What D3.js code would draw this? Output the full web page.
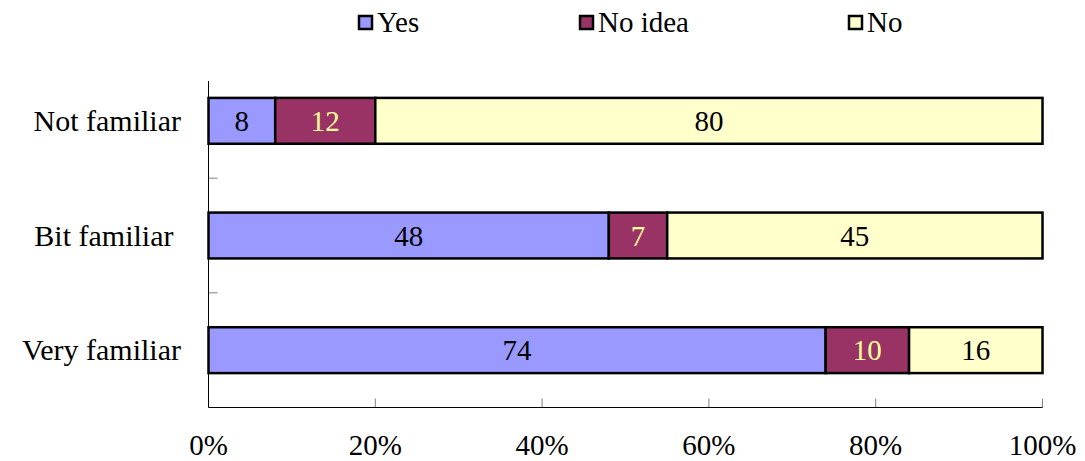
<!DOCTYPE html>
<html>
  <head>
    <script src="https://d3js.org/d3.v7.min.js"></script>
    <style>
      body { margin: 0; background: #fff; }
    </style>
  </head>
  <body>
    <script>
      var width = 1085;
      var height = 461;
      var margin = {top: 63.5, left: 208.5, right: 42.5, bottom: 53.5};
      var font = "'Liberation Serif'";

      var categories = ["Not familiar", "Bit familiar ", "Very familiar"];
      var seriesNames = ["Yes", "No idea", "No"];
      var yesValues = [8, 48, 74];
      var noIdeaValues = [12, 7, 10];
      var noValues = [80, 45, 16];
      var tickValues = [0, 20, 40, 60, 80, 100];
      var colors = ["#9999ff", "#993366", "#ffffcc"];
      var labelColors = ["#000", "#ffff99", "#000"];

      var svg = d3.select("body")
        .append("svg")
        .attr("width", width)
        .attr("height", height);

      var rows = categories.map(function(c, i) {
        return {cat: c, "Yes": yesValues[i], "No idea": noIdeaValues[i], "No": noValues[i]};
      });
      var stacked = d3.stack().keys(seriesNames)(rows);

      var xScale = d3.scaleLinear()
        .domain([0, 100])
        .range([margin.left, width - margin.right]);

      var yScale = d3.scaleBand()
        .domain(categories)
        .range([margin.top, height - margin.bottom])
        .paddingInner(0.6)
        .paddingOuter(0.3);

      // category separators on the left axis
      var step = yScale.step();
      var seps = categories.slice(1).map(function(c) { return yScale(c) - (step - yScale.bandwidth()) / 2; });
      svg.selectAll(".sep")
        .data(seps)
        .enter()
        .append("line")
        .attr("x1", margin.left)
        .attr("x2", margin.left + 9)
        .attr("y1", function(d) { return d; })
        .attr("y2", function(d) { return d; })
        .attr("stroke", "#808080")
        .attr("stroke-width", 1);

      // x ticks pointing up inside
      svg.selectAll(".xtick")
        .data(tickValues.slice(1))
        .enter()
        .append("line")
        .attr("x1", function(d) { return xScale(d); })
        .attr("x2", function(d) { return xScale(d); })
        .attr("y1", height - margin.bottom)
        .attr("y2", height - margin.bottom - 9)
        .attr("stroke", "#808080")
        .attr("stroke-width", 1);

      svg.selectAll(".xlabel")
        .data(tickValues)
        .enter()
        .append("text")
        .attr("x", function(d) { return xScale(d); })
        .attr("y", 455)
        .attr("text-anchor", "middle")
        .style("font-family", font)
        .style("font-size", "29px")
        .text(function(d) { return d + "%"; });

      var groups = svg.selectAll(".series")
        .data(stacked)
        .enter()
        .append("g");

      groups.selectAll("rect")
        .data(function(s, i) { return s.map(function(d) { return {d: d, i: i}; }); })
        .enter()
        .append("rect")
        .attr("x", function(o) { return xScale(o.d[0]); })
        .attr("y", function(o) { return yScale(o.d.data.cat); })
        .attr("width", function(o) { return xScale(o.d[1]) - xScale(o.d[0]); })
        .attr("height", yScale.bandwidth())
        .attr("fill", function(o) { return colors[o.i]; })
        .attr("stroke", "#000")
        .attr("stroke-width", 2.5);

      groups.selectAll("text")
        .data(function(s, i) { return s.map(function(d) { return {d: d, i: i}; }); })
        .enter()
        .append("text")
        .attr("x", function(o) { return (xScale(o.d[0]) + xScale(o.d[1])) / 2; })
        .attr("y", function(o) { return yScale(o.d.data.cat) + yScale.bandwidth() / 2 + 10; })
        .attr("text-anchor", "middle")
        .style("font-family", font)
        .style("font-size", "29px")
        .attr("fill", function(o) { return labelColors[o.i]; })
        .text(function(o) { return o.d[1] - o.d[0]; });

      // axes lines
      svg.append("line")
        .attr("x1", margin.left).attr("x2", margin.left)
        .attr("y1", 81).attr("y2", height - margin.bottom)
        .attr("stroke", "#000").attr("stroke-width", 1);
      svg.append("line")
        .attr("x1", margin.left).attr("x2", width - margin.right)
        .attr("y1", height - margin.bottom).attr("y2", height - margin.bottom)
        .attr("stroke", "#000").attr("stroke-width", 1);

      svg.selectAll(".ylabel")
        .data(categories)
        .enter()
        .append("text")
        .attr("x", 181)
        .attr("y", function(d) { return yScale(d) + yScale.bandwidth() / 2 + 10; })
        .attr("text-anchor", "end")
        .style("font-family", font)
        .style("font-size", "30px")
        .style("white-space", "pre")
        .text(function(d) { return d; });

      // legend
      var legendX = [359, 580, 849];
      var legend = svg.selectAll(".legend")
        .data(seriesNames)
        .enter()
        .append("g")
        .attr("transform", function(d, i) { return "translate(" + legendX[i] + ",16)"; });
      legend.append("rect")
        .attr("width", 13)
        .attr("height", 13)
        .attr("fill", function(d, i) { return colors[i]; })
        .attr("stroke", "#000")
        .attr("stroke-width", 2.5);
      legend.append("text")
        .attr("x", 18)
        .attr("y", 15.5)
        .style("font-family", font)
        .style("font-size", "29px")
        .text(function(d) { return d; });
    </script>
  </body>
</html>
